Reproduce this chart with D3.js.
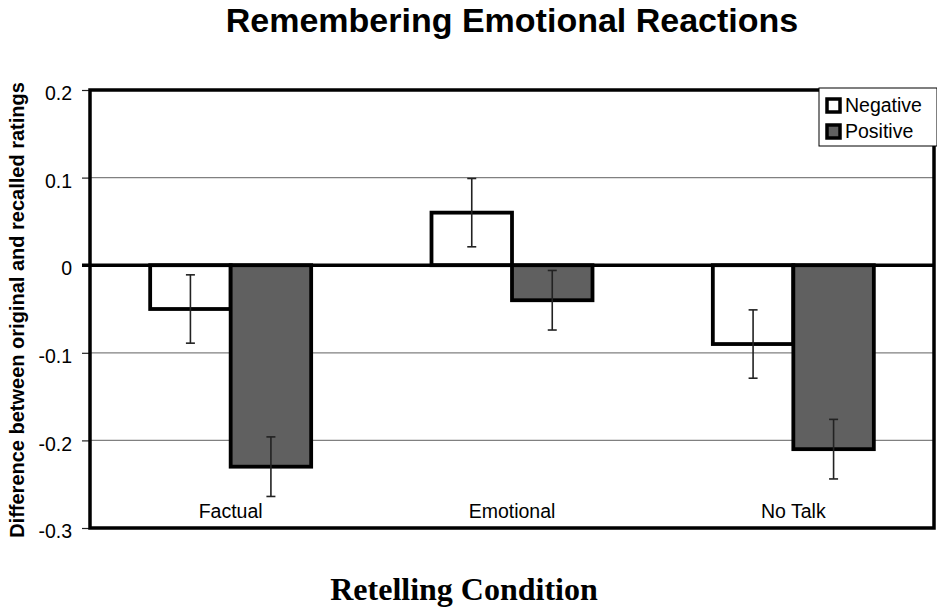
<!DOCTYPE html>
<html>
<head>
<meta charset="utf-8">
<script src="https://cdn.jsdelivr.net/npm/d3@7"></script>
<style>
  html, body { margin: 0; padding: 0; background: #fff; }
  svg { display: block; }
</style>
</head>
<body>
<svg id="chart" width="937" height="607"></svg>
<script>
const categories = ["Factual", "Emotional", "No Talk"];
const seriesNames = ["Negative", "Positive"];
const negativeValues = [-0.05, 0.06, -0.09];
const positiveValues = [-0.23, -0.04, -0.21];
const negativeErrors = [0.039, 0.039, 0.039];
const positiveErrors = [0.034, 0.034, 0.034];
const seriesFills = ["#ffffff", "#606060"];
const yTicks = [0.2, 0.1, 0, -0.1, -0.2, -0.3];

(function () {
const svg = d3.select("#chart");
const pL = 90, pR = 934, pT = 90, pB = 528;

const y = d3.scaleLinear().domain([-0.3, 0.2]).range([pB, pT]);
const x0 = d3.scaleBand().domain(categories).range([pL, pR]).paddingInner(0).paddingOuter(0);
const groupW = 161;
const x1 = d3.scaleBand().domain(seriesNames).range([0, groupW]);

const rows = categories.map((c, i) => ({
  cat: c,
  items: [
    { s: seriesNames[0], v: negativeValues[i], e: negativeErrors[i], fill: seriesFills[0] },
    { s: seriesNames[1], v: positiveValues[i], e: positiveErrors[i], fill: seriesFills[1] }
  ]
}));

// gridlines
svg.append("g").selectAll("line")
  .data(yTicks.filter(t => t !== 0 && t !== 0.2 && t !== -0.3))
  .join("line")
  .attr("x1", pL).attr("x2", pR)
  .attr("y1", d => y(d)).attr("y2", d => y(d))
  .attr("stroke", "#808080").attr("stroke-width", 1.2);

// y axis ticks and labels
const yAxis = d3.axisLeft(y).tickValues(yTicks).tickSize(8).tickPadding(10)
  .tickFormat(d => d === 0 ? "0" : d.toFixed(1));
const ga = svg.append("g").attr("transform", `translate(${pL},0)`).call(yAxis);
ga.select(".domain").remove();
ga.selectAll(".tick line").attr("stroke", "#222").attr("stroke-width", 1.2);
ga.selectAll(".tick text")
  .attr("font-family", "Liberation Sans, Arial, sans-serif")
  .attr("font-size", 19.5).attr("fill", "#000").attr("dy", "0.5em");

// bars
const groups = svg.append("g").selectAll("g")
  .data(rows).join("g")
  .attr("transform", d => `translate(${x0(d.cat) + x0.bandwidth() / 2 - groupW / 2},0)`);

groups.selectAll("rect")
  .data(d => d.items).join("rect")
  .attr("x", d => x1(d.s))
  .attr("width", x1.bandwidth())
  .attr("y", d => y(Math.max(0, d.v)))
  .attr("height", d => Math.abs(y(d.v) - y(0)))
  .attr("fill", d => d.fill)
  .attr("stroke", "#000").attr("stroke-width", 3.8);

// zero line
svg.append("line")
  .attr("x1", pL - 8).attr("x2", pR)
  .attr("y1", y(0)).attr("y2", y(0))
  .attr("stroke", "#000").attr("stroke-width", 3.5);

// error bars
const eb = groups.selectAll("g.eb")
  .data(d => d.items).join("g").attr("class", "eb");
eb.append("line")
  .attr("x1", d => x1(d.s) + x1.bandwidth() / 2)
  .attr("x2", d => x1(d.s) + x1.bandwidth() / 2)
  .attr("y1", d => y(d.v + d.e)).attr("y2", d => y(d.v - d.e))
  .attr("stroke", "#222").attr("stroke-width", 1.6);
eb.selectAll("line.cap")
  .data(d => [d.v + d.e, d.v - d.e].map(v => ({ v, cx: x1(d.s) + x1.bandwidth() / 2 })))
  .join("line").attr("class", "cap")
  .attr("x1", d => d.cx - 4.5).attr("x2", d => d.cx + 4.5)
  .attr("y1", d => y(d.v)).attr("y2", d => y(d.v))
  .attr("stroke", "#222").attr("stroke-width", 1.6);

// category labels
svg.append("g").selectAll("text")
  .data(categories).join("text")
  .attr("x", d => x0(d) + x0.bandwidth() / 2)
  .attr("y", 518)
  .attr("text-anchor", "middle")
  .attr("font-family", "Liberation Sans, Arial, sans-serif")
  .attr("font-size", 19.5)
  .text(d => d);

// frame
svg.append("rect")
  .attr("x", pL).attr("y", pT)
  .attr("width", pR - pL).attr("height", pB - pT)
  .attr("fill", "none").attr("stroke", "#000").attr("stroke-width", 3.5);

// legend
const lg = svg.append("g");
lg.append("rect").attr("x", 819).attr("y", 88).attr("width", 118).attr("height", 58)
  .attr("fill", "#fff").attr("stroke", "#000").attr("stroke-width", 1);
const li = lg.selectAll("g.li").data(seriesNames).join("g").attr("class", "li")
  .attr("transform", (d, i) => `translate(0,${i * 26})`);
li.append("rect").attr("x", 827).attr("y", 99).attr("width", 13).attr("height", 13)
  .attr("fill", (d, i) => seriesFills[i]).attr("stroke", "#000").attr("stroke-width", 3.5);
li.append("text").attr("x", 845).attr("y", 112)
  .attr("font-family", "Liberation Sans, Arial, sans-serif")
  .attr("font-size", 19.5).text(d => d);

// title
svg.append("text")
  .attr("x", 512).attr("y", 32)
  .attr("text-anchor", "middle")
  .attr("font-family", "Liberation Sans, Arial, sans-serif")
  .attr("font-weight", "bold").attr("font-size", 34)
  .text("Remembering Emotional Reactions");

// x axis title
svg.append("text")
  .attr("x", 464).attr("y", 600)
  .attr("text-anchor", "middle")
  .attr("font-family", "Liberation Serif, Times New Roman, serif")
  .attr("font-weight", "bold").attr("font-size", 32)
  .text("Retelling Condition");

// y axis title
svg.append("text")
  .attr("transform", "translate(24,310) rotate(-90)")
  .attr("text-anchor", "middle")
  .attr("font-family", "Liberation Sans, Arial, sans-serif")
  .attr("font-weight", "bold").attr("font-size", 20)
  .text("Difference between original and recalled ratings");
})();
</script>
</body>
</html>
